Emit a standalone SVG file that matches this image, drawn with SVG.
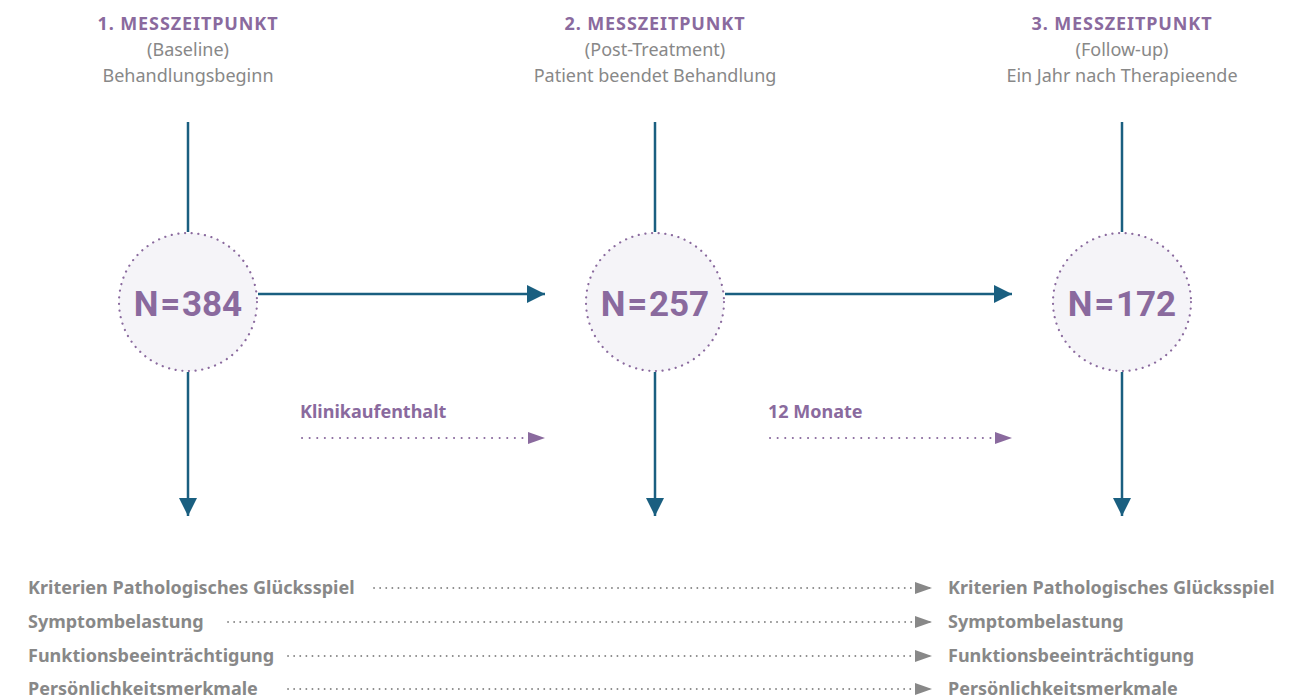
<svg xmlns="http://www.w3.org/2000/svg" width="1300" height="700" viewBox="0 0 1300 700">
<defs>
<style>
.h{font-family:"Noto Sans","Open Sans",sans-serif;font-size:18px;letter-spacing:0.9px;fill:#8a6a9e;font-weight:bold;text-anchor:middle}
.s{font-family:"Noto Sans","Open Sans",sans-serif;font-size:18px;fill:#888;text-anchor:middle}
.n{font-family:Roboto,"Noto Sans",sans-serif;font-size:35px;font-weight:bold;fill:#8a6a9e;text-anchor:middle;word-spacing:-7px}
.c{fill:#f5f4f8;stroke:#8a6a9e;stroke-width:2.2;stroke-dasharray:0.1 6.6;stroke-linecap:round}
.v{stroke:#1a5f80;stroke-width:2.5;fill:none}
.pd{stroke:#8a6a9e;stroke-width:2;stroke-dasharray:0.1 7.5;stroke-linecap:round;fill:none}
.gd{stroke:#888;stroke-width:1.8;stroke-dasharray:0.1 6;stroke-linecap:round;fill:none}
.lp{font-family:"Noto Sans","Open Sans",sans-serif;font-size:18px;font-weight:bold;fill:#8a6a9e}
.lg{font-family:"Noto Sans","Open Sans",sans-serif;font-size:18px;font-weight:bold;fill:#888}
</style>
<marker id="ab" viewBox="0 0 10 10" refX="10" refY="5" markerWidth="18" markerHeight="18" markerUnits="userSpaceOnUse" orient="auto"><path d="M0,0 L10,5 L0,10 Z" fill="#1a5f80"/></marker>
<marker id="ap" viewBox="0 0 10 10" refX="10" refY="5" markerWidth="17" markerHeight="17" markerUnits="userSpaceOnUse" orient="auto"><path d="M0,1.5 L10,5 L0,8.5 Z" fill="#8a6a9e"/></marker>
<marker id="ag" viewBox="0 0 10 10" refX="10" refY="5" markerWidth="17" markerHeight="17" markerUnits="userSpaceOnUse" orient="auto"><path d="M0,1.5 L10,5 L0,8.5 Z" fill="#888"/></marker>
</defs>
<g id="heading1"><text class="h" x="188" y="30">1. MESSZEITPUNKT</text><text class="s" x="188" y="56">(Baseline)</text><text class="s" x="188" y="82">Behandlungsbeginn</text></g>
<g id="heading2"><text class="h" x="655" y="30">2. MESSZEITPUNKT</text><text class="s" x="655" y="56">(Post-Treatment)</text><text class="s" x="655" y="82">Patient beendet Behandlung</text></g>
<g id="heading3"><text class="h" x="1122" y="30">3. MESSZEITPUNKT</text><text class="s" x="1122" y="56">(Follow-up)</text><text class="s" x="1122" y="82">Ein Jahr nach Therapieende</text></g>
<g id="connectors">
<line class="v" x1="188" y1="122" x2="188" y2="232"/>
<line class="v" x1="655" y1="122" x2="655" y2="232"/>
<line class="v" x1="1122" y1="122" x2="1122" y2="232"/>
<line class="v" x1="188" y1="372" x2="188" y2="516" marker-end="url(#ab)"/>
<line class="v" x1="655" y1="372" x2="655" y2="516" marker-end="url(#ab)"/>
<line class="v" x1="1122" y1="372" x2="1122" y2="516" marker-end="url(#ab)"/>
<line class="v" x1="258" y1="294" x2="545" y2="294" marker-end="url(#ab)"/>
<line class="v" x1="725" y1="294" x2="1012" y2="294" marker-end="url(#ab)"/>
<line class="pd" x1="302" y1="438" x2="545" y2="438" marker-end="url(#ap)"/>
<line class="pd" x1="770" y1="438" x2="1012" y2="438" marker-end="url(#ap)"/>
<line class="gd" x1="374" y1="588" x2="932" y2="588" marker-end="url(#ag)"/>
<line class="gd" x1="228" y1="622" x2="932" y2="622" marker-end="url(#ag)"/>
<line class="gd" x1="288" y1="656" x2="932" y2="656" marker-end="url(#ag)"/>
<line class="gd" x1="288" y1="689" x2="932" y2="689" marker-end="url(#ag)"/>
</g>
<g id="node1"><circle class="c" cx="188" cy="302" r="69"/><text class="n" x="188" y="316">N = 384</text></g>
<g id="node2"><circle class="c" cx="655" cy="302" r="69"/><text class="n" x="655" y="316">N = 257</text></g>
<g id="node3"><circle class="c" cx="1122" cy="302" r="69"/><text class="n" x="1122" y="316">N = 172</text></g>
<g id="label-klinik"><text class="lp" x="300" y="418">Klinikaufenthalt</text></g>
<g id="label-12"><text class="lp" x="768" y="418">12 Monate</text></g>
<g id="left-labels">
<text class="lg" x="28" y="594">Kriterien Pathologisches Glücksspiel</text>
<text class="lg" x="28" y="628">Symptombelastung</text>
<text class="lg" x="28" y="662">Funktionsbeeinträchtigung</text>
<text class="lg" x="28" y="695">Persönlichkeitsmerkmale</text>
</g>
<g id="right-labels">
<text class="lg" x="948" y="594">Kriterien Pathologisches Glücksspiel</text>
<text class="lg" x="948" y="628">Symptombelastung</text>
<text class="lg" x="948" y="662">Funktionsbeeinträchtigung</text>
<text class="lg" x="948" y="695">Persönlichkeitsmerkmale</text>
</g>
</svg>
